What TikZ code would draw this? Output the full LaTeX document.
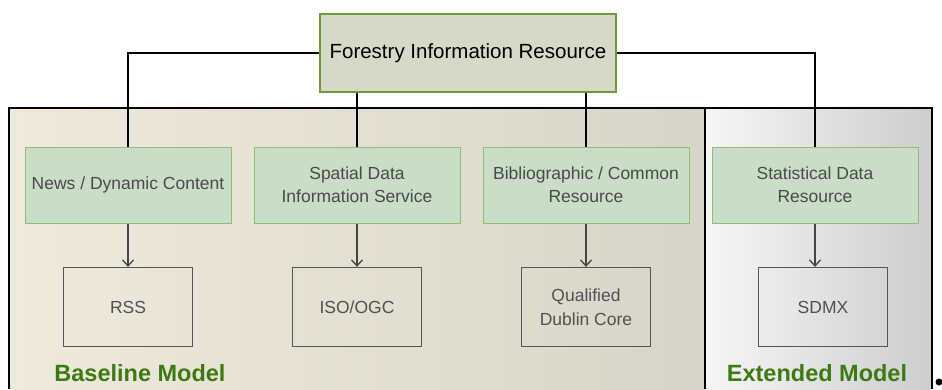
\documentclass[tikz,border=0pt]{standalone}
\usepackage{fontspec}
\setmainfont{Liberation Sans}
\usetikzlibrary{arrows.meta}

\definecolor{topfill}{HTML}{D6D9C7}
\definecolor{topline}{HTML}{6B9B3A}
\definecolor{kindfill}{HTML}{CADDC7}
\definecolor{kindline}{HTML}{8FBF75}
\definecolor{kindtext}{HTML}{4A4A4A}
\definecolor{stdline}{HTML}{555555}
\definecolor{stdtext}{HTML}{505050}
\definecolor{arrowgray}{HTML}{444444}
\definecolor{labelgreen}{HTML}{3E7A12}
\definecolor{baseL}{HTML}{EEEBDD}
\definecolor{baseR}{HTML}{D7D4C9}
\definecolor{extL}{HTML}{F6F6F6}
\definecolor{extR}{HTML}{CDCDCD}

\begin{document}
\begin{tikzpicture}[x=1pt,y=1pt,thick,node distance=229pt,
  topbox/.style={draw=topline,fill=topfill,line width=1.4pt,minimum width=296pt,minimum height=78pt,font=\fontsize{20.5}{24}\selectfont},
  kindbox/.style={draw=kindline,fill=kindfill,line width=1pt,minimum width=206pt,minimum height=76pt,align=center,text=kindtext,font=\fontsize{17.5}{23}\selectfont},
  stdbox/.style={draw=stdline,line width=1.3pt,minimum width=129pt,minimum height=79pt,align=center,text=stdtext,font=\fontsize{17.5}{24}\selectfont},
  modellabel/.style={text=labelgreen,font=\bfseries\fontsize{23.5}{27}\selectfont},
  link/.style={black,line width=1.2pt},
  feed/.style={-{Straight Barb[length=6pt,width=11pt]},draw=arrowgray,line width=1.3pt}]
  \useasboundingbox (0,0) rectangle (942,-389);
  % model panels
  \shade[left color=baseL,right color=baseR] (9,-108) rectangle (705,-389);
  \shade[left color=extL,right color=extR] (705,-108) rectangle (932,-389);
  \draw[line width=1.5pt] (9,-389) -- (9,-108) -- (932,-108) -- (932,-389);
  \draw[line width=1.5pt] (705,-108) -- (705,-389);
  \fill (939,-382) circle (3.5pt);

  \node[topbox] (forestry) at (468,-53) {Forestry Information Resource};
  \node[kindbox] (news) at (128,-185) {News / Dynamic Content};
  \node[kindbox] (spatial) [right of=news] {Spatial Data\\Information Service};
  \node[kindbox] (biblio) [right of=spatial] {Bibliographic / Common\\Resource};
  \node[kindbox] (stat) [right of=biblio] {Statistical Data\\Resource};
  \node[stdbox] (rss) [below of=news,node distance=122pt] {RSS};
  \node[stdbox] (iso) [below of=spatial,node distance=122pt] {ISO/OGC};
  \node[stdbox] (dc) [below of=biblio,node distance=122pt] {Qualified\\Dublin Core};
  \node[stdbox] (sdmx) [below of=stat,node distance=122pt,xshift=8pt] {SDMX};
  \node[modellabel] (baseline) at (140,-373) {Baseline Model};
  \node[modellabel] (extended) at (817,-373) {Extended Model};

  \draw[link] (forestry.west) -| (news.north);
  \draw[link] (forestry.east) -| (stat.north);
  \draw[link] (forestry.south -| spatial.north) -- (spatial.north);
  \draw[link] (forestry.south -| biblio.north) -- (biblio.north);
  \draw[feed] (news) -- (rss);
  \draw[feed] (spatial) -- (iso);
  \draw[feed] (biblio) -- (dc);
  \draw[feed] (stat.south) -- (stat.south |- sdmx.north);
\end{tikzpicture}
\end{document}
